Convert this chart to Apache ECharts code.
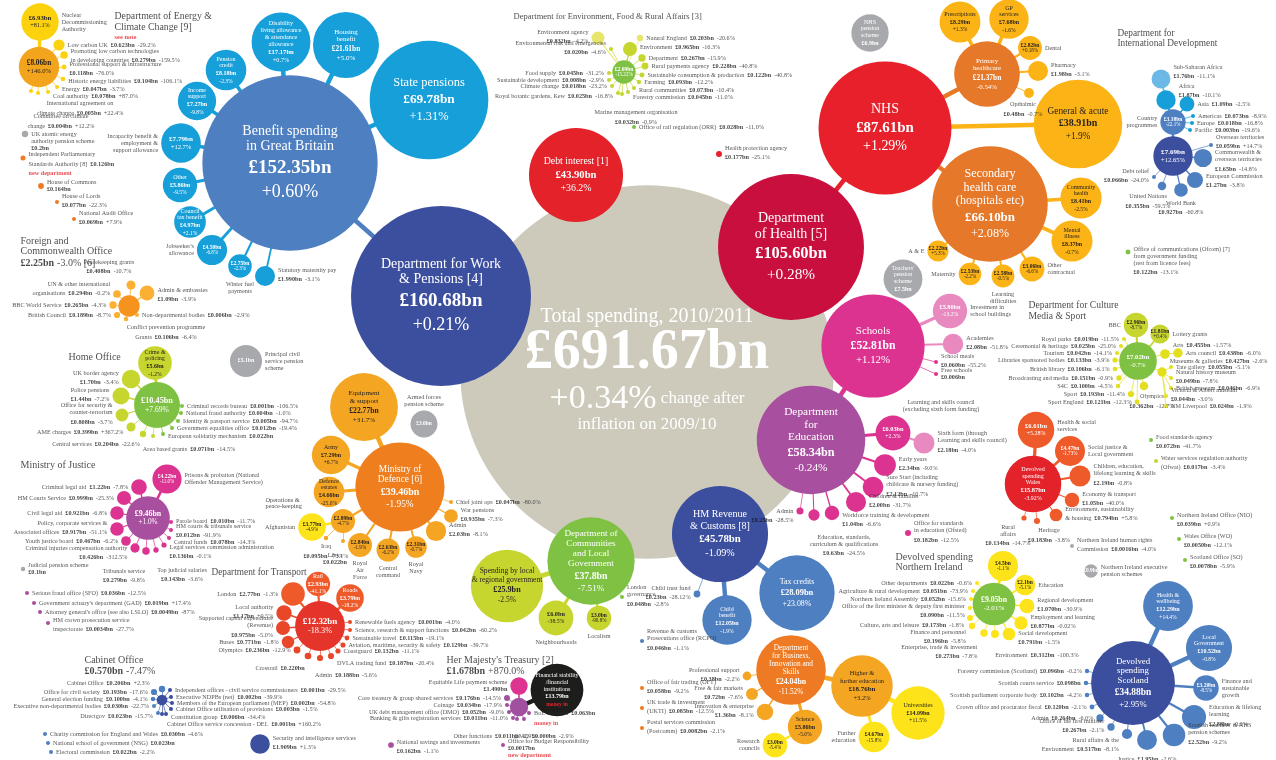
<!DOCTYPE html>
<html><head><meta charset="utf-8">
<script src="https://cdn.jsdelivr.net/npm/echarts/dist/echarts.min.js"></script>
<style>html,body{margin:0;padding:0;background:#fff}#chart{width:1276px;height:760px}</style>
</head><body><div id="chart"></div>
<script>
// ===== DATA: [label, £bn, change on 2009/10, parent index within group] =====
const totalSpending = ["Total spending, 2010/2011", "691.67", "+0.34%"];

const workPensions = [
  ["Department for Work\n& Pensions [4]", "160.68", "+0.21%", -1],
  ["Benefit spending\nin Great Britain", "152.35", "+0.60%", 0],
  ["State pensions", "69.78", "+1.31%", 1],
  ["Housing\nbenefit", "21.61", "+5.0%", 1],
  ["Disability\nliving allowance\n& attendance\nallowance", "17.17", "+0.7%", 1],
  ["Pension\ncredit", "8.18", "-2.3%", 1],
  ["Income\nsupport", "7.27", "-9.8%", 1],
  ["Incapacity benefit &\nemployment &\nsupport allowance", "7.79", "+12.7%", 1],
  ["Other", "5.86", "-9.5%", 1],
  ["Council\ntax benefit", "4.97", "+2.1%", 1],
  ["Jobseeker's\nallowance", "4.50", "-6.8%", 1],
  ["Winter fuel\npayments", "2.75", "-2.3%", 1],
  ["Statutory maternity pay", "1.990", "-3.1%", 1]
];
const debtInterest = [["Debt interest [1]", "43.90", "+36.2%", -1]];
const health = [
  ["Department\nof Health [5]", "105.60", "+0.28%", -1],
  ["NHS", "87.61", "+1.29%", 0],
  ["Primary\nhealthcare", "21.37", "-0.54%", 1],
  ["Prescriptions", "8.29", "+1.3%", 2],
  ["GP\nservices", "7.68", "-1.6%", 2],
  ["Dental", "2.82", "+0.18%", 2],
  ["Pharmacy", "1.98", "-3.1%", 2],
  ["Opthalmic", "0.48", "-0.7%", 2],
  ["General & acute", "38.91", "+1.9%", 1],
  ["Secondary\nhealth care\n(hospitals etc)", "66.10", "+2.08%", 1],
  ["Community\nhealth", "8.41", "-2.5%", 9],
  ["Mental\nillness", "8.37", "-0.7%", 9],
  ["Other\ncontractual", "3.06", "-6.6%", 9],
  ["Learning\ndifficulties", "2.58", "-0.5%", 9],
  ["Maternity", "2.53", "-2.2%", 9],
  ["A & E", "2.22", "+5.3%", 9],
  ["Health protection agency", "0.177", "-25.1%", -1],
  ["NHS\npension\nscheme", "6.9", "", -1],
  ["Teachers'\npension\nscheme", "7.5", "", -1]
];
const education = [
  ["Department\nfor\nEducation", "58.34", "-0.24%", -1],
  ["Schools", "52.81", "+1.12%", 0],
  ["Investment in\nschool buildings", "5.86", "-13.2%", 1],
  ["Academies", "2.08", "-51.8%", 1],
  ["School meals", "0.060", "-55.2%", 1],
  ["Free schools", "0.006", "", 1],
  ["Learning and skills council\n(excluding sixth form funding)", "6.03", "+2.3%", 0],
  ["Sixth form (through\nLearning and skills council)", "2.18", "-4.0%", 6],
  ["Early years", "2.34", "-9.0%", 0],
  ["Sure Start (including\nchildcare & nursery funding)", "2.12", "-10.7%", 0],
  ["Children & families", "2.00", "-31.7%", 0],
  ["Workforce training & development", "1.04", "-6.6%", 0],
  ["Education, standards,\ncurriculum & qualifications", "0.63", "-24.5%", 0],
  ["Admin", "0.25", "-28.5%", 0],
  ["Office for standards\nin education (Ofsted)", "0.182", "-12.5%", -1]
];
const revenue = [
  ["HM Revenue\n& Customs [8]", "45.78", "-1.09%", -1],
  ["Tax credits", "28.09", "+23.08%", 0],
  ["Child\nbenefit", "12.05", "-1.9%", 0],
  ["Child trust fund", "0.23", "-28.12%", 0],
  ["Revenue & customs\nProsecutions office (RCPO)", "0.046", "-1.1%", -1]
];
const business = [
  ["Department\nfor Business,\nInnovation and\nSkills", "24.04", "-11.52%", -1],
  ["Higher &\nfurther education", "18.76", "+3.2%", 0],
  ["Universities", "14.09", "+11.5%", 1],
  ["Further\neducation", "4.67", "-15.8%", 1],
  ["Science", "5.86", "-5.0%", 0],
  ["Research\ncouncils", "3.0", "-5.4%", 4],
  ["Professional support", "0.38", "-2.2%", 0],
  ["Free & fair markets", "0.72", "-7.6%", 0],
  ["Innovation & enterprise", "1.36", "-8.1%", 0],
  ["Office of fair trading (OFT)", "0.058", "-9.2%", -1],
  ["UK trade & investment\n(UKTI)", "0.085", "-12.5%", -1],
  ["Postal services commission\n(Postcomm)", "0.0082", "-2.1%", -1]
];
const communities = [
  ["Department of\nCommunities\nand Local\nGovernment", "37.8", "-7.51%", -1],
  ["Spending by local\n& regional government", "25.9", "-2.5%", 0],
  ["Neighbourhoods", "6.0", "-38.5%", 0],
  ["Localism", "3.0", "-90.8%", 0],
  ["London\ngovernance", "0.048", "-2.8%", 0]
];
const defence = [
  ["Ministry of\nDefence [6]", "39.46", "-1.95%", -1],
  ["Equipment\n& support", "22.77", "+31.7%", 0],
  ["Army", "7.29", "+6.7%", 0],
  ["Defence\nestates", "4.66", "-25.0%", 0],
  ["Operations &\npeace-keeping", "2.89", "-4.7%", 0],
  ["Afghanistan", "3.77", "-4.9%", 4],
  ["Iraq", "0.095", "-73.1%", 4],
  ["Libya", "0.022", "", 4],
  ["Royal\nAir\nForce", "2.84", "-1.9%", 0],
  ["Central\ncommand", "2.63", "-6.2%", 0],
  ["Royal\nNavy", "2.31", "-0.7%", 0],
  ["Admin", "2.03", "-8.1%", 0],
  ["War pensions", "0.935", "-7.3%", 0],
  ["Chief joint ops", "0.047", "-80.0%", 0],
  ["Armed forces\npension scheme", "3.6", "", -1]
];
const transport = [
  ["Department for Transport", "12.32", "-18.3%", -1],
  ["Rail", "2.93", "-41.1%", 0],
  ["Roads", "3.79", "-18.2%", 0],
  ["London", "2.77", "-1.3%", 0],
  ["Local authority", "1.17", "+0.5%", 0],
  ["Supported capital expenditure\n(Revenue)", "0.975", "-5.0%", 0],
  ["Buses", "0.771", "-1.8%", 0],
  ["Olympics", "0.236", "-12.9%", 0],
  ["Crossrail", "0.220", "", 0],
  ["Admin", "0.188", "-5.6%", 0],
  ["DVLA trading fund", "0.187", "-20.4%", 0],
  ["Coastguard", "0.132", "-11.1%", 0],
  ["Aviation, maritime, security & safety", "0.129", "-39.7%", 0],
  ["Sustainable travel", "0.115", "-19.1%", 0],
  ["Science, research & support functions", "0.042", "-60.2%", 0],
  ["Renewable fuels agency", "0.001", "-4.0%", 0]
];
const justice = [
  ["Ministry of Justice", "9.46", "+1.0%", -1],
  ["Prisons & probation (National\nOffender Management Service)", "4.22", "-11.0%", 0],
  ["Criminal legal aid", "1.22", "-7.8%", 0],
  ["HM Courts Service", "0.999", "-25.3%", 0],
  ["Civil legal aid", "0.921", "-6.8%", 0],
  ["Policy, corporate services &\nAssociated offices", "0.917", "-51.1%", 0],
  ["Youth justice board", "0.467", "-6.2%", 0],
  ["Criminal injuries compensation authority", "0.426", "-312.5%", 0],
  ["Tribunals service", "0.279", "-9.8%", 0],
  ["Top judicial salaries", "0.143", "-3.6%", 0],
  ["Legal services commission administration", "0.136", "-0.1%", 0],
  ["Central funds", "0.078", "-14.3%", 0],
  ["HM courts & tribunals service", "0.012", "-91.9%", 0],
  ["Parole board", "0.010", "-11.7%", 0]
];
const homeOffice = [
  ["Home Office", "10.45", "+7.69%", -1],
  ["Crime &\npolicing", "5.6", "-1.2%", 0],
  ["UK border agency", "1.70", "-3.4%", 0],
  ["Police pensions", "1.44", "-7.2%", 0],
  ["Office for security &\ncounter-terrorism", "0.808", "-3.7%", 0],
  ["AME charges", "0.399", "+367.2%", 0],
  ["Central services", "0.204", "-22.6%", 0],
  ["Area based grants", "0.071", "-14.5%", 0],
  ["European solidarity mechanism", "0.022", "", 0],
  ["Government equalities office", "0.012", "-19.4%", 0],
  ["Identity & passport service", "0.005", "-94.7%", 0],
  ["National fraud authority", "0.004", "-1.0%", 0],
  ["Criminal records bureau", "0.001", "-106.5%", 0]
];
const foreignOffice = [
  ["Foreign and\nCommonwealth Office", "2.25", "-3.0% [6]", -1],
  ["Peacekeeping grants", "0.408", "-10.7%", 0],
  ["Admin & embassies", "1.09", "-3.9%", 0],
  ["UN & other international\norganisations", "0.294", "-0.2%", 0],
  ["BBC World Service", "0.265", "-4.3%", 0],
  ["British Council", "0.189", "-8.7%", 0],
  ["Non-departmental bodies", "0.006", "-2.9%", 0],
  ["Conflict prevention programme\nGrants", "0.106", "-6.4%", 0]
];
const energy = [
  ["Department of Energy &\nClimate Change [9]", "8.06", "+146.0%", -1],
  ["Nuclear\nDecommissioning\nAuthority", "6.93", "+81.1%", 0],
  ["Low carbon UK", "0.623", "-29.2%", 0],
  ["Promoting low carbon technologies\nin developing countries", "0.279", "-159.5%", 0],
  ["Professional support & infrastructure", "0.118", "-76.0%", 0],
  ["Historic energy liabilities", "0.104", "-106.1%", 0],
  ["Energy", "0.047", "-3.7%", 0],
  ["Coal authority", "0.078", "+87.0%", 0],
  ["International agreement on\nclimate change", "0.005", "+22.4%", 0],
  ["Committee on climate\nchange", "0.004", "+12.2%", 0]
];
const treasury = [
  ["Her Majesty's Treasury [2]", "1.678", "+870.0%", -1],
  ["Equitable Life payment scheme", "1.490", "", 0],
  ["Financial stability\n/financial\ninstitutions", "13.79", "money in", 0],
  ["Core treasury & group shared services", "0.176", "-14.5%", 0],
  ["Coinage", "0.034", "-17.9%", 0],
  ["UK debt management office (DMO)", "0.052", "-9.0%", 0],
  ["Banking & gilts registration services", "0.011", "-11.0%", 0],
  ["Other functions", "0.011", "-2.9%", 0],
  ["DMO", "0.000", "-2.9%", 0],
  ["BoE dividend", "0.063", "money in", 0]
];
const environment = [
  ["Department for Environment, Food & Rural Affairs [3]", "2.69", "-15.22%", -1],
  ["Environment agency", "0.832", "-4.2%", 0],
  ["Environmental risk and emergencies", "0.020", "-4.6%", 0],
  ["Food supply", "0.045", "-31.2%", 0],
  ["Sustainable development", "0.008", "-2.9%", 0],
  ["Climate change", "0.018", "-23.2%", 0],
  ["Royal botanic gardens, Kew", "0.025", "-16.8%", 0],
  ["Natural England", "0.203", "-20.6%", 0],
  ["Environment", "0.965", "-16.3%", 0],
  ["Department", "0.267", "-15.9%", 0],
  ["Rural payments agency", "0.228", "-40.8%", 0],
  ["Sustainable consumption & production", "0.122", "-40.8%", 0],
  ["Farming", "0.093", "-12.2%", 0],
  ["Rural communities", "0.073", "-10.4%", 0],
  ["Forestry commission", "0.045", "-11.0%", 0],
  ["Marine management organisation", "0.032", "-0.9%", 0]
];
const intlDev = [
  ["Department for\nInternational Development", "7.69", "+12.65%", -1],
  ["Country\nprogrammes", "3.18", "-22.1%", 0],
  ["Sub-Saharan Africa", "1.76", "-11.1%", 3],
  ["Africa", "1.87", "-10.1%", 1],
  ["Asia", "1.09", "-2.5%", 1],
  ["Americas", "0.073", "-8.9%", 1],
  ["Europe", "0.018", "-16.8%", 1],
  ["Pacific", "0.003", "-19.6%", 1],
  ["Overseas territories", "0.059", "+14.7%", 0],
  ["Commonwealth &\noverseas territories", "1.65", "-14.8%", 0],
  ["European Commission", "1.27", "-3.8%", 0],
  ["World Bank", "0.927", "-60.8%", 0],
  ["United Nations", "0.355", "-59.5%", 0],
  ["Debt relief", "0.066", "-24.0%", 0]
];
const culture = [
  ["Department for Culture\nMedia & Sport", "7.02", "-0.7%", -1],
  ["BBC", "2.96", "-8.7%", 0],
  ["Lottery grants", "1.81", "+0.4%", 0],
  ["Arts", "0.455", "-1.57%", 0],
  ["Arts council", "0.438", "-6.0%", 3],
  ["Museums & galleries", "0.427", "-2.6%", 0],
  ["Tate gallery", "0.055", "-5.1%", 5],
  ["Natural history museum", "0.049", "-7.8%", 5],
  ["British museum", "0.046", "-6.9%", 5],
  ["Victoria & Albert museum", "0.044", "-3.0%", 5],
  ["NM Liverpool", "0.024", "-1.9%", 5],
  ["Olympics", "0.362", "-12.7%", 0],
  ["Sport England", "0.121", "-12.3%", 0],
  ["Sport", "0.193", "-11.4%", 0],
  ["S4C", "0.100", "-4.5%", 0],
  ["Broadcasting and media", "0.151", "-0.9%", 0],
  ["British library", "0.106", "-6.1%", 0],
  ["Libraries sponsored bodies", "0.133", "-3.9%", 0],
  ["Tourism", "0.042", "-14.1%", 0],
  ["Ceremonial & heritage", "0.025", "-25.0%", 0],
  ["Royal parks", "0.019", "-11.5%", 0]
];
const wales = [
  ["Devolved\nspending\nWales", "15.87", "-3.92%", -1],
  ["Health & social\nservices", "6.61", "+5.28%", 0],
  ["Social justice &\nLocal government", "4.47", "-1.73%", 0],
  ["Children, education,\nlifelong learning & skills", "2.19", "-0.8%", 0],
  ["Economy & transport", "1.05", "-40.0%", 0],
  ["Environment, sustainability\n& housing", "0.794", "+5.8%", 0],
  ["Heritage", "0.183", "-3.8%", 0],
  ["Rural\naffairs", "0.134", "-14.7%", 0]
];
const northernIreland = [
  ["Devolved spending\nNorthern Ireland", "9.05", "-2.01%", -1],
  ["Health", "4.5", "-1.1%", 0],
  ["Education", "2.1", "-5.1%", 0],
  ["Regional development", "1.070", "-30.9%", 0],
  ["Employment and learning", "0.877", "-0.02%", 0],
  ["Social development", "0.791", "-1.5%", 0],
  ["Environment", "0.312", "-100.3%", 0],
  ["Enterprise, trade & investment", "0.273", "-7.8%", 0],
  ["Finance and personnel", "0.196", "-5.8%", 0],
  ["Culture, arts and leisure", "0.173", "-1.8%", 0],
  ["Office of the first minister & deputy first minister", "0.090", "-11.5%", 0],
  ["Northern Ireland Assembly", "0.052", "-15.6%", 0],
  ["Agriculture & rural development", "0.051", "-73.9%", 0],
  ["Other departments", "0.022", "-0.6%", 0]
];
const scotland = [
  ["Devolved\nspending\nScotland", "34.88", "+2.95%", -1],
  ["Health &\nwellbeing", "12.29", "+14.4%", 0],
  ["Local\nGovernment", "10.52", "-0.8%", 0],
  ["Finance and\nsustainable\ngrowth", "3.20", "-8.5%", 0],
  ["Education & lifelong\nlearning", "2.88", "-0.2%", 0],
  ["Scottish teachers' & NHS\npension schemes", "2.52", "-9.2%", 0],
  ["Justice", "1.95", "-2.6%", 0],
  ["Rural affairs & the\nEnvironment", "0.517", "-8.1%", 0],
  ["Office of the first minister", "0.267", "-2.1%", 0],
  ["Admin", "0.264", "-6.0%", 0],
  ["Crown office and procurator fiscal", "0.120", "-2.1%", 0],
  ["Scottish parliament corporate body", "0.102", "-4.2%", 0],
  ["Scottish courts service", "0.098", "", 0],
  ["Forestry commission (Scotland)", "0.096", "-0.2%", 0]
];
const cabinetOffice = [
  ["Cabinet Office", "0.570", "-7.47%", -1],
  ["Cabinet Office", "0.206", "+2.3%", 0],
  ["Office for civil society", "0.193", "-17.6%", 0],
  ["General election funding", "0.100", "-4.1%", 0],
  ["Executive non-departmental bodies", "0.030", "-22.7%", 0],
  ["Directgov", "0.023", "-15.7%", 0],
  ["Independent offices - civil service commissioners", "0.001", "-29.5%", 0],
  ["Executive NDPBs (net)", "0.002", "-39.9%", 0],
  ["Members of the European parliament (MEP)", "0.002", "-54.8%", 0],
  ["Cabinet Office utilisation of provisions", "0.003", "-1.5%", 0],
  ["Constitution group", "0.006", "-34.4%", 0],
  ["Cabinet Office service concession - DEL", "0.001", "+160.2%", 0]
];
const otherBodies = [
  ["UK atomic energy\nauthority pension scheme", "0.2", "", -1],
  ["Independent Parliamentary\nStandards Authority [8]", "0.126", "new department", -1],
  ["House of Commons", "0.164", "", -1],
  ["House of Lords", "0.077", "-22.3%", -1],
  ["National Audit Office", "0.069", "+7.9%", -1],
  ["Principal civil\nservice pension\nscheme", "5.1", "", -1],
  ["Judicial pension scheme", "0.1", "", -1],
  ["Serious fraud office (SFO)", "0.036", "-12.5%", -1],
  ["Government actuary's department (GAD)", "0.019", "+17.4%", -1],
  ["Attorney general's office (see also LSLO)", "0.0049", "-87%", -1],
  ["HM crown prosecution service\ninspectorate", "0.0034", "-27.7%", -1],
  ["Charity commission for England and Wales", "0.030", "-4.6%", -1],
  ["National school of government (NSG)", "0.023", "", -1],
  ["Electoral commission", "0.022", "-2.2%", -1],
  ["Security and intelligence services", "1.909", "+1.3%", -1],
  ["National savings and investments", "0.162", "-1.1%", -1],
  ["Office for Budget Responsibility", "0.0017", "new department", -1],
  ["Office of rail regulation (ORR)", "0.028", "-11.0%", -1],
  ["Office of communications (Ofcom) [7]\nfrom government funding\n(rest from licence fees)", "0.122", "-13.1%", -1],
  ["Food standards agency", "0.072", "-41.7%", -1],
  ["Water services regulation authority\n(Ofwat)", "0.017", "-3.4%", -1],
  ["Northern Ireland human rights\nCommission", "0.0016", "-4.0%", -1],
  ["Northern Ireland executive\npension schemes", "0.9", "", -1],
  ["Northern Ireland Office (NIO)", "0.039", "+0.9%", -1],
  ["Wales Office (WO)", "0.0050", "-12.1%", -1],
  ["Scotland Office (SO)", "0.0078", "-5.9%", -1]
];

// ===== LAYOUT (positions on the hidden 1276 x 760 axes, colour key, inside mode, outside side, offset) =====
const totalLayout = [647, 372, 'total'];
const workPensionsLayout = [
  [441,296,'dwp',2,''],[290,163,'benefit',2,''],[429,100,'cyan',2,''],[346,45,'cyan',2,''],
  [281,42,'cyan',2,''],[226,70,'cyan',2,''],[197,101,'cyan',2,''],[181,143,'cyan',1,'l'],
  [180,185,'cyan',2,''],[190,222,'cyan',2,''],[212,250,'cyan',1,'l'],[240,266,'cyan',1,'b'],
  [265,276,'cyan',0,'R']
];
const debtInterestLayout = [[576,175,'red',2,'']];
const healthLayout = [
  [791,247,'doh',2,''],[885,128,'nhs',2,''],[987,74,'orange',2,''],[960,22,'amber',2,''],
  [1009,19,'amber',2,''],[1030,48,'amber',1,'r'],[1038,71,'amber',0,'R'],[1029,93,'amber',0,'B',[-6,0]],
  [1078,124,'amber',2,''],[990,204,'orange',2,''],[1081,198,'amber',2,''],[1072,241,'amber',2,''],
  [1032,269,'amber',1,'r'],[1003,276,'amber',1,'b'],[970,274,'amber',1,'l'],[938,251,'amber',1,'l'],
  [719,154,'nhs',0,'R'],[870,33,'grey',2,''],[903,279,'grey',2,'']
];
const educationLayout = [
  [811,440,'purple',2,''],[873,346,'magenta',2,''],[950,311,'pink',1,'r'],[953,344,'pink',0,'R'],
  [936,362,'magenta',0,'R'],[936,374,'magenta',0,'R'],[893,433,'magenta',1,'t',[48,0]],[924,443,'pink',0,'R'],
  [885,465,'magenta',0,'R'],[873,487,'magenta',0,'R'],[856,502,'magenta',0,'R'],[832,513,'magenta',0,'R',[0,8]],
  [814,515,'magenta',0,'B',[30,10]],[800,511,'magenta',0,'L',[0,6]],[908,533,'magenta',0,'R']
];
const revenueLayout = [
  [720,534,'dwp',2,''],[797,593,'benefit',2,''],[727,620,'benefit',2,''],[697,594,'benefit',0,'L'],
  [642,641,'benefit',0,'R']
];
const businessLayout = [
  [791,670,'bisOrange',2,''],[862,686,'amber2',2,''],[918,713,'yellow',2,''],[874,737,'yellow',1,'l'],
  [805,727,'amber2',2,''],[775,745,'yellow',1,'l'],[747,676,'amber2',0,'L'],[752,694,'amber2',0,'L'],
  [765,712,'amber2',0,'L'],[642,688,'bisOrange',0,'R'],[642,708,'bisOrange',0,'r'],[642,728,'bisOrange',0,'r']
];
const communitiesLayout = [
  [591,561,'green',2,''],[507,586,'yg',2,''],[556,618,'yg',1,'b'],[599,618,'yg',1,'b'],[622,597,'green',0,'R']
];
const defenceLayout = [
  [400,487,'mod',2,''],[364,407,'amber2',2,''],[331,455,'amber2',2,''],[329,492,'amber2',2,''],
  [343,521,'amber2',1,''],[312,527,'yellow',1,'l'],[326,538,'amber2',0,'B'],[343,541,'amber2',0,'B',[-8,6]],
  [360,545,'amber2',1,'b'],[388,550,'amber2',1,'b'],[416,547,'amber2',1,'b'],[436,531,'amber2',0,'R'],
  [451,516,'amber2',0,'R'],[451,502,'amber2',0,'r'],[424,424,'grey',1,'t']
];
const transportLayout = [
  [320,626,'tred',1,''],[318,584,'ored',2,''],[350,598,'ored',2,''],[293,594,'ored',0,'l'],
  [284,613,'ored2',0,'L'],[283,628,'ored2',0,'L'],[288,642,'ored2',0,'l'],[297,650,'ored2',0,'l'],
  [308,656,'ored2',0,'b',[-28,0]],[320,658,'ored2',0,'b',[26,5]],[331,656,'ored2',0,'r',[0,7]],[338,651,'ored2',0,'r'],
  [343,645,'ored2',0,'r'],[347,638,'ored2',0,'r'],[350,630,'ored2',0,'r'],[350,622,'ored2',0,'r']
];
const justiceLayout = [
  [148,518,'purple',1,''],[167,479,'magenta',1,'r'],[139,487,'magenta',0,'l'],[124,498,'magenta',0,'l'],
  [117,513,'magenta',0,'l'],[117,529,'magenta',0,'l'],[126,541,'magenta',0,'l'],[135,548,'magenta',0,'L',[0,6]],
  [146,551,'magenta',0,'B',[-22,10]],[156,550,'magenta',0,'B',[26,11]],[164,545,'magenta',0,'R',[0,8]],
  [169,538,'magenta',0,'r',[0,4]],[171,530,'magenta',0,'R',[0,2]],[171,522,'magenta',0,'r',[0,-1]]
];
const homeOfficeLayout = [
  [157,405,'green',1,''],[155,363,'yg',2,''],[131,379,'yg',0,'L'],[121,396,'yg',0,'L'],
  [122,415,'yg',0,'L'],[131,427,'yg',0,'l',[0,5]],[143,434,'yg',0,'l',[3,10]],[153,436,'yg',0,'b',[36,2]],
  [163,434,'green',0,'r',[0,2]],[172,428,'green',0,'r'],[178,421,'green',0,'r'],[181,413,'green',0,'r'],[182,406,'green',0,'r']
];
const foreignOfficeLayout = [
  [129,306,'fco',0,''],[131,285,'fcoLight',0,'T',[-22,0]],[147,293,'fcoLight',0,'R',[0,3]],[117,294,'fcoLight',0,'l',[0,-4]],
  [113,305,'fcoLight',0,'l'],[117,315,'fcoLight',0,'l'],[137,315,'fcoLight',0,'r'],[126,319,'fcoLight',0,'b',[40,0]]
];
const energyLayout = [
  [39,67,'amberDark',1,''],[40,22,'gold',1,'r'],[59,45,'gold',0,'r'],[64,55,'gold',0,'r',[0,2]],
  [64,67,'gold',0,'R',[0,3]],[63,79,'gold',0,'r',[0,2]],[57,87,'gold',0,'r',[0,2]],[48,92,'gold',0,'r',[0,4]],
  [38,93,'gold',0,'b',[42,2]],[31,91,'gold',0,'b',[30,17]]
];
const treasuryLayout = [
  [519,707,'hmtPurple',0,''],[519,686,'hmtPink',0,'L'],[557,690,'black',2,''],[507,698,'hmtPurple',0,'l'],
  [507,705,'hmtPurple',0,'l'],[509,712,'hmtPurple',0,'l'],[513,718,'hmtPurple',0,'l'],[517,719,'hmtPurple',0,'b',[-22,6]],
  [524,719,'hmtPurple',0,'b',[20,6]],[529,713,'hmtPurple',0,'r',[0,4]]
];
const environmentLayout = [
  [624,72,'green',1,''],[598,38,'lightYellow',0,'L'],[611,49,'yg',0,'L'],[609,73,'yg',0,'l'],
  [609,80,'yg',0,'l'],[612,86,'yg',0,'l'],[618,93,'yg',0,'l',[0,3]],[640,38,'lightYellow',0,'r'],
  [630,49,'yg',0,'r',[0,-2]],[642,58,'yg',0,'r'],[645,66,'yg',0,'r'],[642,75,'yg',0,'r'],
  [639,82,'yg',0,'r'],[634,88,'yg',0,'r',[0,2]],[628,92,'yg',0,'r',[0,5]],[622,94,'yg',0,'B',[14,10]]
];
const intlDevLayout = [
  [1173,156,'dwp',1,''],[1173,122,'benefit',1,'l'],[1161,79,'lightBlue',0,'R',[0,-6]],[1166,100,'cyan',0,'R',[0,-8]],
  [1187,104,'cyan',0,'r'],[1193,116,'cyan',0,'r'],[1192,123,'cyan',0,'r'],[1190,130,'cyan',0,'r'],
  [1211,145,'benefit',0,'R',[0,-2]],[1203,158,'benefit',0,'R',[0,4]],[1195,180,'benefit',0,'R',[0,2]],[1181,190,'benefit',0,'B'],
  [1162,186,'benefit',0,'B',[-14,0]],[1154,177,'benefit',0,'L']
];
const cultureLayout = [
  [1138,361,'green',1,''],[1136,325,'yg',1,'l'],[1160,334,'yg',1,'r'],[1165,354,'yellow2',0,'r',[0,-9]],
  [1178,353,'yellow2',0,'r'],[1162,372,'yellow2',0,'r',[0,-11]],[1171,367,'yellow2',0,'r'],[1171,378,'yellow2',0,'R'],
  [1171,388,'yellow2',0,'r'],[1166,396,'yellow2',0,'R'],[1166,406,'yellow2',0,'r'],[1144,386,'yellow2',0,'B',[8,0]],
  [1137,402,'yellow2',0,'l'],[1131,394,'yellow2',0,'l'],[1118,386,'yellow2',0,'l'],[1119,378,'yellow2',0,'l'],
  [1115,369,'yellow2',0,'l'],[1115,360,'yellow2',0,'l'],[1117,353,'yellow2',0,'l'],[1121,346,'yellow2',0,'l'],
  [1124,339,'yellow2',0,'l']
];
const walesLayout = [
  [1033,484,'red',2,''],[1036,430,'ored',1,'r',[0,-4]],[1070,451,'ored',1,'r'],[1080,476,'ored',0,'R'],
  [1072,500,'ored',0,'R'],[1056,515,'ored',0,'r'],[1037,521,'ored',0,'B',[12,0]],[1024,518,'ored',0,'B',[-16,0]]
];
const northernIrelandLayout = [
  [994,604,'green',1,''],[1003,566,'yellow',1,''],[1025,585,'yellow',1,'r'],[1027,606,'yellow',0,'R'],
  [1021,623,'yellow',0,'R'],[1009,634,'yellow',0,'R',[0,5]],[995,634,'yellow',0,'b',[42,8]],[984,633,'yellow',0,'L',[0,20]],
  [972,626,'yellow',0,'L',[0,12]],[970,618,'yellow',0,'l',[0,7]],[970,608,'yellow',0,'L',[0,4]],[971,599,'yellow',0,'l'],
  [973,591,'yellow',0,'l'],[977,583,'yellow',0,'l']
];
const scotlandLayout = [
  [1133,683,'dwp',2,''],[1168,606,'benefit',2,''],[1209,648,'benefit',2,''],[1206,688,'benefit',1,'r'],
  [1194,717,'benefit',0,'R'],[1174,735,'benefit',0,'R'],[1147,740,'benefit',0,'b'],[1127,734,'benefit',0,'l',[0,12]],
  [1111,727,'benefit',0,'L'],[1100,718,'benefit',0,'l'],[1092,707,'benefit',0,'l'],[1087,695,'benefit',0,'l'],
  [1086,683,'benefit',0,'l'],[1087,671,'benefit',0,'l']
];
const cabinetOfficeLayout = [
  [162,700,'dwp',0,''],[162,689,'benefit',0,'l',[-6,-6]],[154,692,'benefit',0,'l'],[153,699,'benefit',0,'l'],
  [154,706,'benefit',0,'l'],[158,713,'benefit',0,'l',[0,3]],[170,690,'dwp',0,'r'],[171,697,'dwp',0,'r'],
  [172,703,'dwp',0,'r'],[171,709,'dwp',0,'r'],[166,714,'dwp',0,'r',[0,3]],[162,714,'dwp',0,'r',[0,10]]
];
const otherBodiesLayout = [
  [25,134,'grey',0,'R',[0,7]],[23,158,'bisOrange',0,'r',[0,6]],[41,186,'bisOrange',0,'R'],[57,202,'bisOrange',0,'R'],
  [74,219,'bisOrange',0,'R'],[246,361,'grey',1,'r'],[23,569,'grey',0,'R'],[27,593,'purple',0,'r'],
  [34,603,'purple',0,'r'],[40,612,'purple',0,'r'],[48,623,'purple',0,'r',[0,3]],[45,734,'benefit',0,'r'],
  [48,743,'benefit',0,'r'],[51,752,'benefit',0,'r'],[260,744,'dwp',0,'R'],[391,745,'purple',0,'R',[0,3]],
  [503,745,'purple',0,'R',[0,3]],[634,127,'green',0,'r'],[1128,252,'green',0,'R',[0,10]],[1151,440,'green',0,'R',[0,3]],
  [1156,461,'yg',0,'r',[0,3]],[1072,546,'grey',0,'r'],[1091,571,'grey',1,'r'],[1172,518,'green',0,'R',[0,3]],
  [1179,539,'green',0,'R',[0,3]],[1185,560,'green',0,'R',[0,3]]
];

// headings: [data row, x, y, show value, font size]
const headings = [
  [energy[0], 115, 12, false, 9.8],
  [foreignOffice[0], 21, 236, true, 10],
  [homeOffice[0], 69, 352, false, 10],
  [justice[0], 21, 460, false, 10],
  [transport[0], 212, 568, false, 9.3],
  [cabinetOffice[0], 85, 655, true, 10],
  [treasury[0], 447, 655, true, 10],
  [environment[0], 514, 13, false, 8.5],
  [intlDev[0], 1118, 29, false, 9.3],
  [culture[0], 1029, 301, false, 9.6],
  [northernIreland[0], 896, 552, false, 10],
  [defence[4], 266, 497, false, 6.3]
];
const notes = [["see note", 115, 34]];

// ===== STYLE =====
const FONT = 'Liberation Serif';
const K = 7.1; // px radius per sqrt(£bn)
const PAL = {
  total:'#cdcabb', dwp:'#3c4f9f', benefit:'#4e7fc0', cyan:'#169fd9', grey:'#a8a9ad', red:'#e3222a',
  doh:'#c90f3e', nhs:'#e7202b', orange:'#e6782a', amber:'#fbb315', amber2:'#f4a623', magenta:'#dc3390',
  purple:'#a94f9f', pink:'#e88abf', green:'#7fc243', yg:'#c7d52f', yellow:'#fde31a', yellow2:'#e3df1f',
  mod:'#ef7e1e', bisOrange:'#ee7b23', tred:'#e5352b', ored:'#ef5a2b', ored2:'#e8472a', fco:'#f6921e',
  fcoLight:'#fbb034', gold:'#fcd20f', amberDark:'#f2a41d', lightYellow:'#e8e66a', lightBlue:'#6cb8e6',
  hmtPurple:'#a0509f', hmtPink:'#dd3391', black:'#1d1d1b'
};
const DARK_TEXT = new Set(['amber','amber2','yg','yellow','yellow2','gold','lightYellow','amberDark','fcoLight']);
const RED_NOTES = new Set(['money in','new department']);

function clamp(x,a,b){ return Math.max(a, Math.min(b, x)); }
function radiusOf(v){ return Math.max(2, K * Math.sqrt(v)); }
function money(v){ return '£' + v + 'bn'; }

const OUT_RICH = {
  n:{fontSize:6.2, lineHeight:7, color:'#2b2b2b', fontFamily:FONT},
  v:{fontSize:6.2, lineHeight:7, color:'#111', fontWeight:'bold', fontFamily:FONT},
  c:{fontSize:6.2, lineHeight:7, color:'#2b2b2b', fontFamily:FONT},
  m:{fontSize:6.2, lineHeight:7, color:'#e3222a', fontWeight:'bold', fontFamily:FONT}
};

function insideLabel(name, val, chg, mode, r, dark){
  if (!mode) return {show:false};
  const col = dark ? '#231f20' : '#ffffff';
  let ns, vs, cs;
  if (mode === 2){ ns = clamp(r*0.21, 6, 14); vs = clamp(r*0.225, 6, 19); cs = clamp(r*0.21, 5.5, 18); }
  else { vs = clamp(r*0.36, 5.5, 11); cs = vs*0.92; ns = vs; }
  let t = '';
  if (mode === 2) t += '{n|' + name + '}\n';
  t += '{v|' + money(val) + '}';
  if (chg) t += '\n' + (RED_NOTES.has(chg) ? '{m|' + chg + '}' : '{c|' + chg + '}');
  return {show:true, position:'inside', formatter:t, rich:{
    n:{fontSize:ns, lineHeight:ns*1.12, color:col, fontFamily:FONT},
    v:{fontSize:vs, lineHeight:vs*(mode===2?1.45:1.15), color:col, fontWeight:'bold', fontFamily:FONT},
    c:{fontSize:cs, lineHeight:cs*1.15, color:col, fontFamily:FONT},
    m:{fontSize:cs, lineHeight:cs*1.15, color:'#e3222a', fontWeight:'bold', fontFamily:FONT}
  }};
}
function outsideLabel(name, val, chg, mode, side, off){
  const s = side.toLowerCase();
  const pos = {l:'left', r:'right', t:'top', b:'bottom'}[s];
  let t = '{n|' + name + '}';
  if (!mode){
    t += (side !== s ? '\n' : ' ') + '{v|' + money(val) + '}';
    if (chg) t += RED_NOTES.has(chg) ? '\n{m|' + chg + '}' : ' {c|' + chg + '}';
  }
  return {show:true, position:pos, distance:3, offset:off || [0,0], formatter:t, rich:OUT_RICH};
}

const nodes = [], links = [], outs = [];
// total circle
(function(){
  const r = radiusOf(parseFloat(totalSpending[1]));
  nodes.push({value:[totalLayout[0], totalLayout[1]], symbolSize:2*r, itemStyle:{color:PAL[totalLayout[2]]},
    label:{show:true, position:'inside',
      formatter:'{a|' + totalSpending[0] + '}\n{b|' + money(totalSpending[1]) + '}\n{c|' + totalSpending[2] + '}{d| change after}\n{d|inflation on 2009/10}',
      rich:{
        a:{fontSize:20, lineHeight:16, color:'#fff', fontFamily:FONT},
        b:{fontSize:56, lineHeight:58, color:'#fff', fontWeight:'bold', fontFamily:FONT},
        c:{fontSize:34, lineHeight:32, color:'#fff', fontFamily:FONT},
        d:{fontSize:17, lineHeight:20, color:'#fff', fontFamily:FONT}
      }}});
})();

function addGroup(rows, layout){
  const base = nodes.length;
  rows.forEach((row, i) => {
    const [name, val, chg, parent] = row;
    const [x, y, ck, mode, side, off] = layout[i];
    const r = radiusOf(parseFloat(val));
    const color = PAL[ck];
    nodes.push({value:[x,y], symbolSize:2*r, itemStyle:{color:color},
      label: insideLabel(name, val, chg, mode, r, DARK_TEXT.has(ck))});
    if (parent >= 0) links.push({source:base+i, target:base+parent,
      lineStyle:{color:color, width:clamp(r*0.18, 0.7, 4.5), opacity:1}});
    if (side) outs.push({value:[x,y], symbolSize:2*r, label: outsideLabel(name, val, chg, mode, side, off)});
  });
}
[
  [workPensions, workPensionsLayout], [debtInterest, debtInterestLayout], [health, healthLayout],
  [education, educationLayout], [revenue, revenueLayout], [business, businessLayout],
  [communities, communitiesLayout], [defence, defenceLayout], [transport, transportLayout],
  [justice, justiceLayout], [homeOffice, homeOfficeLayout], [foreignOffice, foreignOfficeLayout],
  [energy, energyLayout], [treasury, treasuryLayout], [environment, environmentLayout],
  [intlDev, intlDevLayout], [culture, cultureLayout], [wales, walesLayout],
  [northernIreland, northernIrelandLayout], [scotland, scotlandLayout], [cabinetOffice, cabinetOfficeLayout],
  [otherBodies, otherBodiesLayout]
].forEach(g => addGroup(g[0], g[1]));

const headData = headings.map(h => {
  const [row, x, y, showVal, fs] = h;
  let t = '{h|' + row[0] + '}';
  if (showVal) t += '\n{hv|' + money(row[1]) + '} {hc|' + row[2] + '}';
  return {value:[x,y], label:{show:true, position:[0,0], align:'left', verticalAlign:'top', formatter:t, rich:{
    h:{fontSize:fs, lineHeight:fs*1.08, color:'#1a1a1a', fontFamily:FONT},
    hv:{fontSize:fs, lineHeight:fs*1.15, color:'#1a1a1a', fontWeight:'bold', fontFamily:FONT},
    hc:{fontSize:fs, lineHeight:fs*1.15, color:'#1a1a1a', fontFamily:FONT}
  }}};
});
notes.forEach(n => headData.push({value:[n[1], n[2]], label:{show:true, position:[0,0], formatter:n[0],
  fontSize:6.5, color:'#e3222a', fontWeight:'bold', fontFamily:FONT}}));

const chart = echarts.init(document.getElementById('chart'), null, {renderer:'canvas'});
chart.setOption({
  backgroundColor:'#ffffff',
  animation:false,
  textStyle:{fontFamily:FONT},
  grid:{left:0, right:0, top:0, bottom:0, containLabel:false},
  xAxis:{type:'value', min:0, max:1276, show:false},
  yAxis:{type:'value', min:0, max:760, inverse:true, show:false},
  series:[
    {type:'graph', coordinateSystem:'cartesian2d', layout:'none', symbol:'circle', silent:true, z:2,
     data:nodes, links:links, edgeSymbol:['none','none'], lineStyle:{opacity:1, curveness:0},
     emphasis:{disabled:true}},
    {type:'scatter', symbol:'circle', silent:true, z:3, data:outs,
     itemStyle:{color:'rgba(0,0,0,0)'}, emphasis:{disabled:true}},
    {type:'scatter', symbol:'circle', symbolSize:1, silent:true, z:4, data:headData,
     itemStyle:{color:'rgba(0,0,0,0)'}, emphasis:{disabled:true}}
  ]
});
</script></body></html>
